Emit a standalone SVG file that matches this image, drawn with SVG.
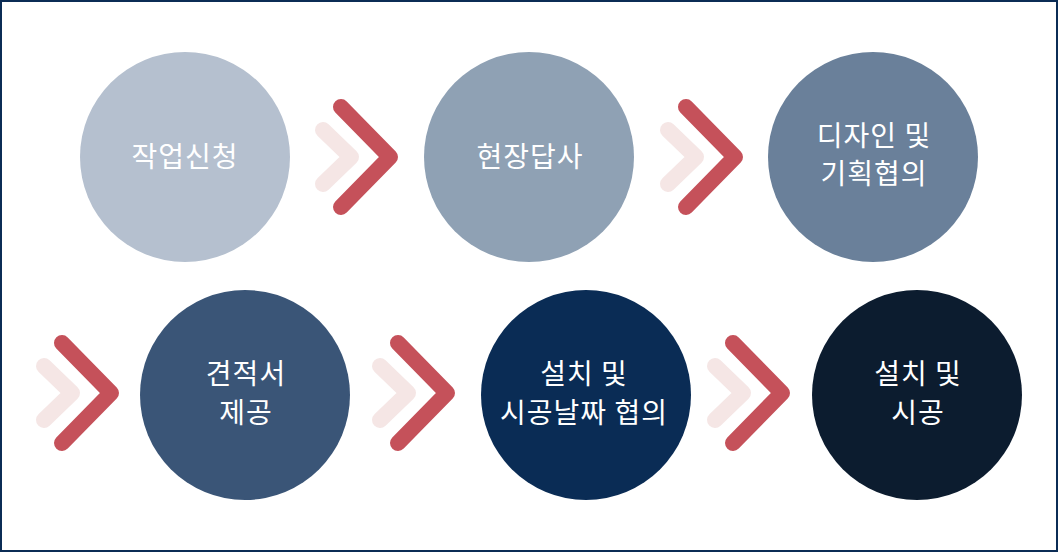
<svg xmlns="http://www.w3.org/2000/svg" xmlns:xlink="http://www.w3.org/1999/xlink" width="1058" height="552" viewBox="0 0 1058 552">
  <style>
    .lbl { font-family: "Noto Sans CJK KR", "Noto Sans", sans-serif; font-size: 28px; letter-spacing: 1px; fill: #ffffff; text-anchor: middle; font-weight: 400; }
    .red { fill: none; stroke: #c5515a; stroke-width: 16; stroke-linecap: round; stroke-linejoin: round; }
    .pale { fill: none; stroke: #f5e6e5; stroke-width: 16; stroke-linecap: round; stroke-linejoin: round; }
  </style>
  <defs>
    <g id="chev">
      <path class="pale" d="M -67 -27 L -39 0 L -67 27"/>
      <path class="red" d="M -49 -50 L 0 0 L -49 50"/>
    </g>
  </defs>
  <rect x="1" y="1" width="1056" height="550" fill="#ffffff" stroke="#0b2c55" stroke-width="2"/>

  <g id="connectors">
    <use xlink:href="#chev" transform="translate(390,157)"/>
    <use xlink:href="#chev" transform="translate(735,157)"/>
    <use xlink:href="#chev" transform="translate(111,393)"/>
    <use xlink:href="#chev" transform="translate(447,393)"/>
    <use xlink:href="#chev" transform="translate(782,393)"/>
  </g>

  <g id="n1">
    <circle cx="185" cy="157" r="105" fill="#b5c0cf"/>
    <text class="lbl" x="185" y="167">작업신청</text>
  </g>
  <g id="n2">
    <circle cx="529" cy="157" r="105" fill="#8fa1b4"/>
    <text class="lbl" x="530" y="167">현장답사</text>
  </g>
  <g id="n3">
    <circle cx="873" cy="157" r="105" fill="#6a809a"/>
    <text class="lbl" x="874" y="146">디자인 및</text>
    <text class="lbl" x="874" y="184">기획협의</text>
  </g>
  <g id="n4">
    <circle cx="245" cy="395" r="105" fill="#3a5577"/>
    <text class="lbl" x="246" y="384">견적서</text>
    <text class="lbl" x="246" y="423">제공</text>
  </g>
  <g id="n5">
    <circle cx="586" cy="395" r="105" fill="#0a2c55"/>
    <text class="lbl" x="584" y="384">설치 및</text>
    <text class="lbl" x="584" y="423">시공날짜 협의</text>
  </g>
  <g id="n6">
    <circle cx="917" cy="395" r="105" fill="#0c1c2f"/>
    <text class="lbl" x="918" y="384">설치 및</text>
    <text class="lbl" x="918" y="423">시공</text>
  </g>
</svg>
